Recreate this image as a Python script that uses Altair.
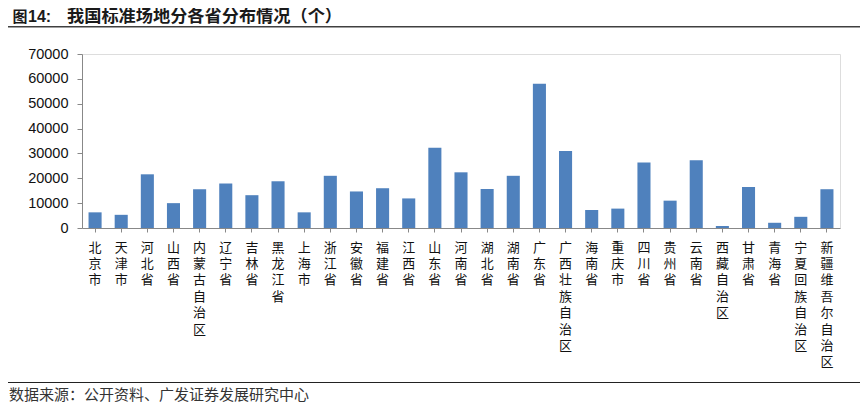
import altair as alt
import pandas as pd

provinces = ["北京市", "天津市", "河北省", "山西省", "内蒙古自治区", "辽宁省", "吉林省",
             "黑龙江省", "上海市", "浙江省", "安徽省", "福建省", "江西省", "山东省",
             "河南省", "湖北省", "湖南省", "广东省", "广西壮族自治区", "海南省", "重庆市",
             "四川省", "贵州省", "云南省", "西藏自治区", "甘肃省", "青海省",
             "宁夏回族自治区", "新疆维吾尔自治区"]
counts = [6300, 5300, 21600, 10000, 15600, 17900, 13200,
          18800, 6300, 21000, 14700, 16000, 11900, 32300,
          22400, 15700, 21000, 58000, 31000, 7200, 7800,
          26400, 11000, 27300, 800, 16500, 2100,
          4500, 15600]
y_ticks = [0, 10000, 20000, 30000, 40000, 50000, 60000, 70000]

title_fig = "图"
title_num = "14:"
title_text = "我国标准场地分各省分布情况（个）"
source_text = "数据来源：公开资料、广发证券发展研究中心"

df = pd.DataFrame({"省份": provinces, "数量": counts})

W, H = 758, 174
PAD_L, PAD_T, PAD_R, PAD_B = 74, 46, 20, 175
X0, Y0 = 8 + PAD_L, 8 + PAD_T  # page position of plot origin

bars = alt.Chart(df).mark_bar(color="#4F81BD").encode(
    x=alt.X("省份:N", sort=provinces, title=None,
            scale=alt.Scale(paddingInner=0.5, paddingOuter=0.25),
            axis=alt.Axis(labelAngle=0, labelExpr="split(datum.label, '')",
                          labelFont="Noto Sans CJK SC", labelFontSize=13,
                          labelLineHeight=16.4, labelColor="#111",
                          labelBaseline="top", labelPadding=9,
                          domainColor="#888888", tickColor="#888888",
                          tickSize=4, labelOverlap=False, labelBound=False)),
    y=alt.Y("数量:Q", title=None,
            scale=alt.Scale(domain=[0, 70000], nice=False),
            axis=alt.Axis(values=y_ticks, format="d", grid=False,
                          labelFont="Liberation Sans", labelFontSize=14.5,
                          labelColor="#111", labelPadding=9,
                          domainColor="#888888", tickColor="#888888",
                          tickSize=5)),
)

one = alt.Data(values=[{}])

top_rule = alt.Chart(one).mark_rule(color="#404040", strokeWidth=1.6).encode(
    x=alt.value(-PAD_L), x2=alt.value(W + PAD_R), y=alt.value(26.7 - Y0))
bottom_rule = alt.Chart(one).mark_rule(color="#222222", strokeWidth=1.2).encode(
    x=alt.value(-PAD_L), x2=alt.value(W + PAD_R), y=alt.value(382.5 - Y0))

TY = 16.6 - Y0
t0 = alt.Chart(one).mark_text(align="left", baseline="middle",
                              font="Noto Sans CJK SC", fontWeight="bold",
                              fontSize=15, color="#1a1a1a").encode(
    x=alt.value(12.5 - X0), y=alt.value(TY), text=alt.value(title_fig))
t1 = alt.Chart(one).mark_text(align="left", baseline="middle",
                              font="Liberation Sans", fontWeight="bold",
                              fontSize=16, color="#1a1a1a").encode(
    x=alt.value(28 - X0), y=alt.value(TY), text=alt.value(title_num))
t2 = alt.Chart(one).mark_text(align="left", baseline="middle",
                              font="Noto Sans CJK SC", fontWeight="bold",
                              fontSize=17.2, color="#1a1a1a").encode(
    x=alt.value(67 - X0), y=alt.value(TY), text=alt.value(title_text))
src = alt.Chart(one).mark_text(align="left", baseline="middle",
                               font="Noto Sans CJK SC", fontSize=15,
                               color="#333333").encode(
    x=alt.value(9 - X0), y=alt.value(394.8 - Y0), text=alt.value(source_text))

chart = alt.layer(bars, top_rule, bottom_rule, t0, t1, t2, src).properties(
    width=W, height=H,
    autosize=alt.AutoSizeParams(type="none"),
    padding={"left": PAD_L, "top": PAD_T, "right": PAD_R, "bottom": PAD_B},
).configure_view(stroke=None).configure(background="white")

chart.save("out.html", embed_options={"renderer": "svg", "actions": False})
